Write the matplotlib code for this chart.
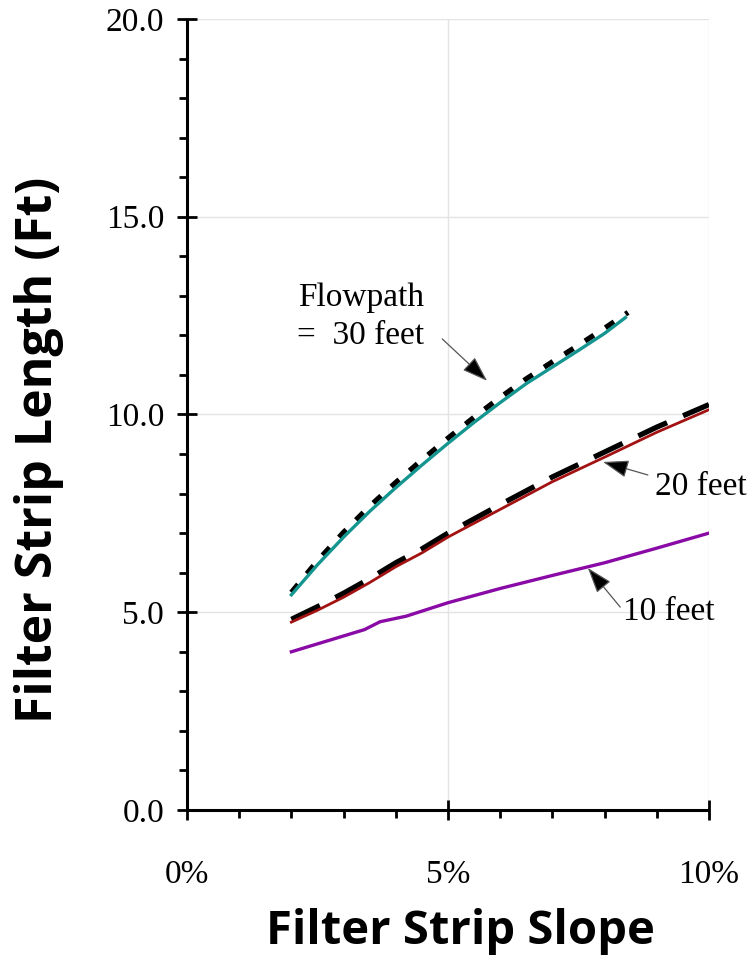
import matplotlib
matplotlib.use("Agg")
import matplotlib.pyplot as plt
from matplotlib.ticker import MultipleLocator, FuncFormatter

# ---- data ----
x10 = [2, 2.5, 3, 3.4, 3.7, 4.2, 5, 6, 7, 8, 9, 10]
y10 = [4.0, 4.2, 4.4, 4.56, 4.76, 4.9, 5.24, 5.6, 5.93, 6.25, 6.62, 7.0]

x20 = [2, 2.5, 3, 3.5, 4, 4.5, 5, 6, 7, 8, 9, 10]
y20 = [4.75, 5.05, 5.38, 5.75, 6.15, 6.5, 6.9, 7.6, 8.3, 8.92, 9.55, 10.12]
x20d = [2, 2.5, 3, 3.5, 4, 4.5, 5, 6, 7, 8, 9, 10]
y20d = [4.82, 5.14, 5.48, 5.85, 6.25, 6.6, 7.0, 7.72, 8.42, 9.05, 9.68, 10.25]

x30 = [2, 2.5, 3, 3.5, 4, 4.5, 5, 5.5, 6, 6.5, 7, 7.5, 8, 8.4]
y30 = [5.44, 6.2, 6.9, 7.55, 8.15, 8.72, 9.27, 9.8, 10.3, 10.78, 11.2, 11.62, 12.05, 12.45]
x30d = [2, 2.5, 3, 3.5, 4, 4.5, 5, 5.5, 6, 6.5, 7, 7.5, 8, 8.45]
y30d = [5.5, 6.3, 7.02, 7.68, 8.28, 8.85, 9.4, 9.93, 10.43, 10.9, 11.33, 11.75, 12.18, 12.58]

xticks = [0, 5, 10]
xtick_labels = ["0%", "5%", "10%"]
yticks = [0, 5, 10, 15, 20]

fig = plt.figure(figsize=(7.51, 9.63), dpi=100)
ax = fig.add_axes([0.249, 0.1589, 0.695, 0.8214])

ax.set_xlim(0, 10)
ax.set_ylim(0, 20)
for s in ["top", "right"]:
    ax.spines[s].set_visible(False)
for s in ["left", "bottom"]:
    ax.spines[s].set_linewidth(2.2)
    ax.spines[s].set_capstyle("butt")

ax.grid(True, which="major", color="#e4e4e4", lw=1.0, zorder=0)
ax.set_axisbelow(True)

ax.set_xticks(xticks)
ax.set_xticklabels(xtick_labels)
ax.xaxis.set_minor_locator(MultipleLocator(1))
ax.set_yticks(yticks)
ax.yaxis.set_major_formatter(FuncFormatter(lambda v, p: f"{v:.1f}"))
ax.yaxis.set_minor_locator(MultipleLocator(1))

serif = "Liberation Serif"
ax.tick_params(axis="both", which="major", direction="inout", length=15, width=2.0,
               labelsize=24, color="black")
ax.tick_params(axis="both", which="minor", direction="out", length=6, width=2.0)
ax.tick_params(axis="x", which="major", pad=28)
ax.tick_params(axis="y", which="major", pad=9)
for lab in ax.get_xticklabels() + ax.get_yticklabels():
    lab.set_fontfamily(serif)

# lines
ax.plot(x10, y10, color="#8a0aa6", lw=2.4, zorder=3)
ax.plot(x20d, y20d, color="black", lw=3.8, dashes=(6.0, 3.3), zorder=3)
ax.plot(x20, y20, color="#a31212", lw=2.0, zorder=4)
ax.plot(x30d, y30d, color="black", lw=3.8, dashes=(2.0, 2.6), zorder=3)
ax.plot(x30, y30, color="#159590", lw=2.4, zorder=4)

arrow = dict(arrowstyle="-|>,head_length=1.6,head_width=0.55", fc="black",
             ec="#555555", lw=0.9, shrinkA=0, shrinkB=0)

ax.text(3.33, 12.47, "Flowpath\n=  30 feet", ha="center", va="center",
        fontsize=24, fontfamily=serif, linespacing=1.3, multialignment="center")
ax.annotate("", xy=(5.75, 10.85), xytext=(4.89, 11.91), arrowprops=arrow, zorder=6)

ax.text(8.97, 8.17, "20 feet", ha="left", va="center", fontsize=24, fontfamily=serif)
ax.annotate("", xy=(7.97, 8.80), xytext=(8.83, 8.47), arrowprops=arrow, zorder=6)

ax.text(8.35, 5.01, "10 feet", ha="left", va="center", fontsize=24, fontfamily=serif)
ax.annotate("", xy=(7.68, 6.12), xytext=(8.30, 5.13), arrowprops=arrow, zorder=6)

fig.text(0.052, 0.533, "Filter Strip Length (Ft)", rotation=90, ha="center", va="center",
         fontsize=36, fontweight="bold", fontfamily="Open Sans")
fig.text(0.6125, 0.033, "Filter Strip Slope", ha="center", va="center",
         fontsize=34, fontweight="bold", fontfamily="Open Sans")

fig.savefig("out.png", dpi=100)
